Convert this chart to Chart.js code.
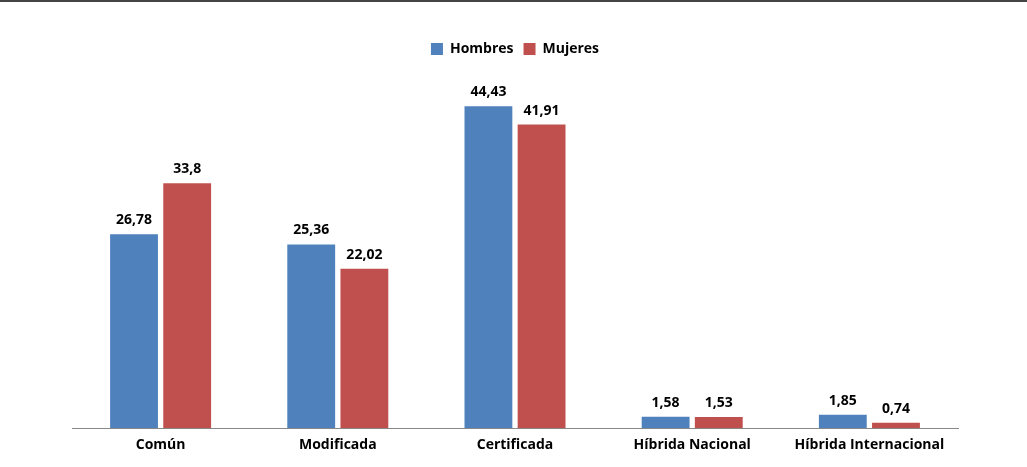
<!DOCTYPE html>
<html>
<head>
<meta charset="utf-8">
<script src="https://cdn.jsdelivr.net/npm/chart.js@4/dist/chart.umd.min.js"></script>
<style>
  body { margin: 0; background: #fff; }
  #wrap { width: 1027px; height: 467px; border-top: 2px solid #444; box-sizing: border-box; }
  canvas { display: block; }
</style>
</head>
<body>
<div id="wrap"><canvas id="chart" width="1027" height="465"></canvas></div>
<script>
const categories = ['Común', 'Modificada', 'Certificada', 'Híbrida Nacional', 'Híbrida Internacional'];
const hombres = [26.78, 25.36, 44.43, 1.58, 1.85];
const mujeres = [33.8, 22.02, 41.91, 1.53, 0.74];

const FONT = '"Open Sans", "Liberation Sans", sans-serif';

// draw the value above each bar, comma as decimal separator
const valueLabels = {
  id: 'valueLabels',
  afterDatasetsDraw(chart) {
    const ctx = chart.ctx;
    ctx.save();
    ctx.font = 'bold 14px ' + FONT;
    ctx.fillStyle = '#000';
    ctx.textAlign = 'center';
    ctx.textBaseline = 'bottom';
    chart.data.datasets.forEach((ds, i) => {
      chart.getDatasetMeta(i).data.forEach((bar, j) => {
        ctx.fillText(String(ds.data[j]).replace('.', ','), bar.x, bar.y - 7);
      });
    });
    ctx.restore();
  }
};

new Chart(document.getElementById('chart'), {
  type: 'bar',
  data: {
    labels: categories,
    datasets: [
      { label: 'Hombres', data: hombres, backgroundColor: '#4f81bd' },
      { label: 'Mujeres', data: mujeres, backgroundColor: '#c0504d' }
    ]
  },
  options: {
    responsive: false,
    animation: false,
    devicePixelRatio: 1,
    layout: { padding: { left: 72, right: 69, top: 30, bottom: 6 } },
    categoryPercentage: 0.6,
    barPercentage: 0.9,
    scales: {
      x: {
        grid: { display: false, drawTicks: false },
        border: { color: '#888' },
        ticks: { color: '#000', font: { family: FONT, weight: 'bold', size: 14 }, padding: 8 }
      },
      y: {
        display: false,
        min: 0,
        max: 50
      }
    },
    plugins: {
      legend: {
        position: 'top',
        labels: { boxWidth: 12, boxHeight: 12, color: '#000', font: { family: FONT, weight: 'bold', size: 14 }, padding: 10 }
      },
      tooltip: { enabled: false }
    }
  },
  plugins: [valueLabels]
});
</script>
</body>
</html>
